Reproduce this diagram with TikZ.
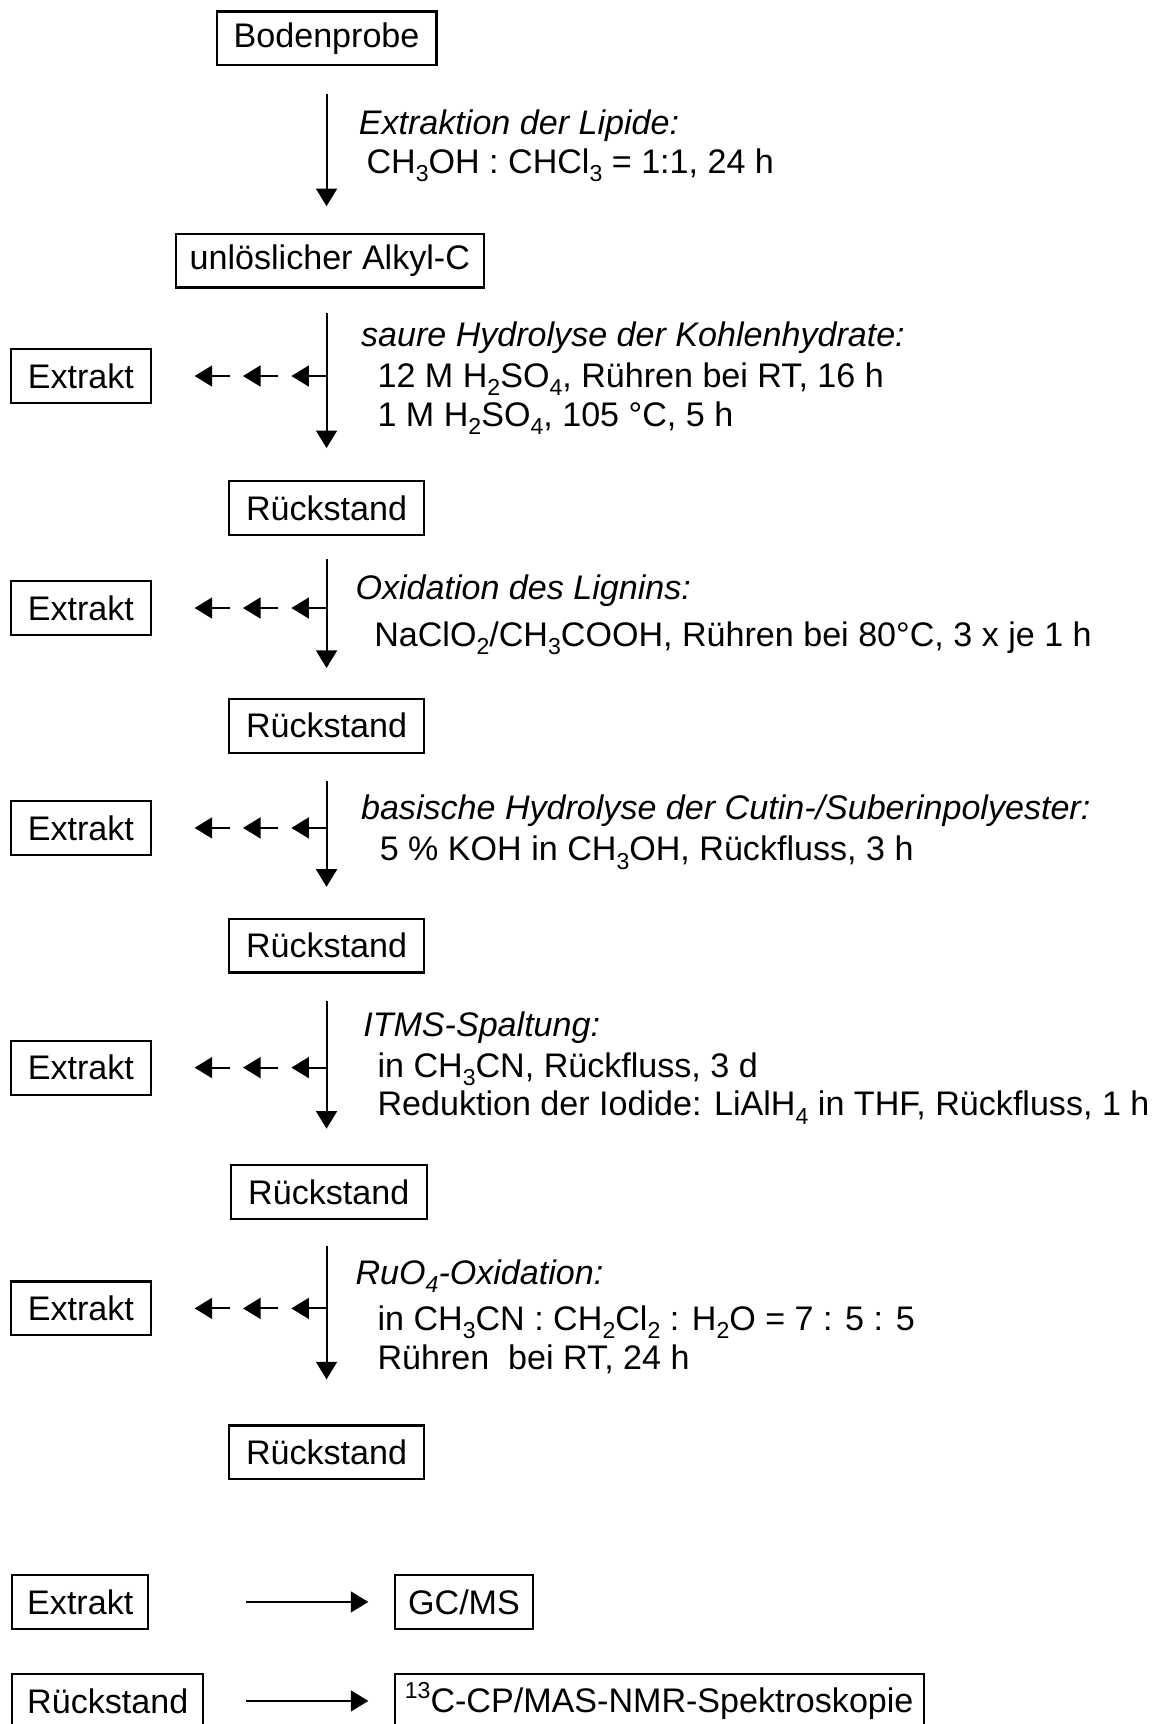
\documentclass[tikz,border=0pt]{standalone}
\usepackage{fontspec}
\setmainfont{Liberation Sans}
\usetikzlibrary{arrows.meta,calc}
\newcommand\chs[1]{\raisebox{-0.24em}{\fontsize{10.5}{10.5}\selectfont #1}}
\newcommand\chsup[1]{\raisebox{0.42em}{\fontsize{10.5}{10.5}\selectfont #1}}
\begin{document}
\begin{tikzpicture}[x=0.5pt,y=-0.5pt,
  font=\fontsize{15.5}{18}\selectfont,
  box/.style={draw, line width=0.95pt, minimum height=24.5pt, inner sep=0pt, anchor=center},
  arr/.style={line width=0.95pt, -{Triangle[width=9.5pt,length=8pt]}},
  lbl/.style={anchor=base west, inner sep=0pt},
  ital/.style={lbl, font=\fontsize{15.5}{18}\selectfont\itshape}]
\useasboundingbox (0,0) rectangle (1050,1568);
\clip (0,0) rectangle (1050,1568);

% main column
\node[box, minimum width=100pt] (bod) at (297,35) {Bodenprobe};
\node[box, minimum width=140pt] (alk) at (300,237) {unlöslicher Alkyl-C};
\node[box, minimum width=89pt] (r1) at (297,462) {Rückstand};
\node[box, minimum width=89pt] (r2) at (297,660) {Rückstand};
\node[box, minimum width=89pt] (r3) at (297,860) {Rückstand};
\node[box, minimum width=89pt] (r4) at (299,1084) {Rückstand};
\node[box, minimum width=89pt] (r5) at (297,1321) {Rückstand};

% extract boxes
\node[box, minimum width=63.5pt] (e1) at (73.5,342) {Extrakt};
\node[box, minimum width=63.5pt] (e2) at (73.5,553) {Extrakt};
\node[box, minimum width=63.5pt] (e3) at (73.5,753) {Extrakt};
\node[box, minimum width=63.5pt] (e4) at (73.5,971) {Extrakt};
\node[box, minimum width=63.5pt] (e5) at (73.5,1190) {Extrakt};

% vertical arrows
\draw[arr, shorten <=12.5pt, shorten >=12pt] (bod.south) -- (bod.south |- alk.north);
\draw[arr, shorten <=11pt, shorten >=14.5pt] (bod.south |- alk.south) -- (bod.south |- r1.north);
\draw[arr, shorten <=10.5pt, shorten >=13.5pt] (r1.south) -- (r1.south |- r2.north);
\draw[arr, shorten <=12.5pt, shorten >=14pt] (r2.south) -- (r2.south |- r3.north);
\draw[arr, shorten <=12.5pt, shorten >=16pt] (r3.south) -- (r3.south |- r4.north);
\draw[arr, shorten <=12pt, shorten >=20.5pt] (r3.south |- r4.south) -- (r3.south |- r5.north);

% branch arrows towards the extracts
\foreach \e in {e1,e2,e3,e4,e5}{
  \coordinate (b\e) at (\e -| bod);
  \foreach \k in {0,1,2}
    \draw[arr] ($(b\e)+(-44*\k,0)$) -- ++(-32,0);
}

% labels
\node[ital] (l1a) at (326,122) {Extraktion der Lipide:};
\node[lbl]  (l1b) at (333,158) {CH\chs{3}OH : CHCl\chs{3} = 1:1, 24 h};

\node[ital] (l2a) at (328,315) {saure Hydrolyse der Kohlenhydrate:};
\node[lbl]  (l2b) at (343,352) {12 M H\chs{2}SO\chs{4}, Rühren bei RT, 16 h};
\node[lbl]  (l2c) at (343,388) {1 M H\chs{2}SO\chs{4}, 105 °C, 5 h};

\node[ital] (l3a) at (323,545) {Oxidation des Lignins:};
\node[lbl]  (l3b) at (340,588) {NaClO\chs{2}/CH\chs{3}COOH, Rühren bei 80°C, 3 x je 1 h};

\node[ital] (l4a) at (328,745) {basische Hydrolyse der Cutin-/Suberinpolyester:};
\node[lbl]  (l4b) at (345,783) {5 \% KOH in CH\chs{3}OH, Rückfluss, 3 h};

\node[ital] (l5a) at (330,943) {ITMS-Spaltung:};
\node[lbl]  (l5b) at (343,980) {in CH\chs{3}CN, Rückfluss, 3 d};
\node[lbl]  (l5c) at (343,1015) {Reduktion der Iodide: LiAlH\chs{4} in THF, Rückfluss, 1 h};

\node[ital] (l6a) at (323,1168) {RuO\chs{4}-Oxidation:};
\node[lbl]  (l6b) at (343,1210) {in CH\chs{3}CN : CH\chs{2}Cl\chs{2} : H\chs{2}O = 7 : 5 : 5};
\node[lbl]  (l6c) at (343,1246) {Rühren\ \ bei RT, 24 h};

% analysis rows
\node[box, minimum width=62pt] (e6) at (73,1457) {Extrakt};
\node[box, minimum width=63pt] (gc) at (422,1457) {GC/MS};
\node[box, minimum width=87pt] (r6) at (98,1547) {Rückstand};
\node[box, minimum width=240.5pt] (nmr) at (599.5,1547) {\chsup{13}C-CP/MAS-NMR-Spektroskopie};
\draw[arr, shorten <=44pt, shorten >=11.5pt] (e6.east) -- (e6.east -| gc.west);
\draw[arr, shorten <=19pt, shorten >=11.5pt] (r6.east) -- (r6.east -| nmr.west);
\end{tikzpicture}
\end{document}
